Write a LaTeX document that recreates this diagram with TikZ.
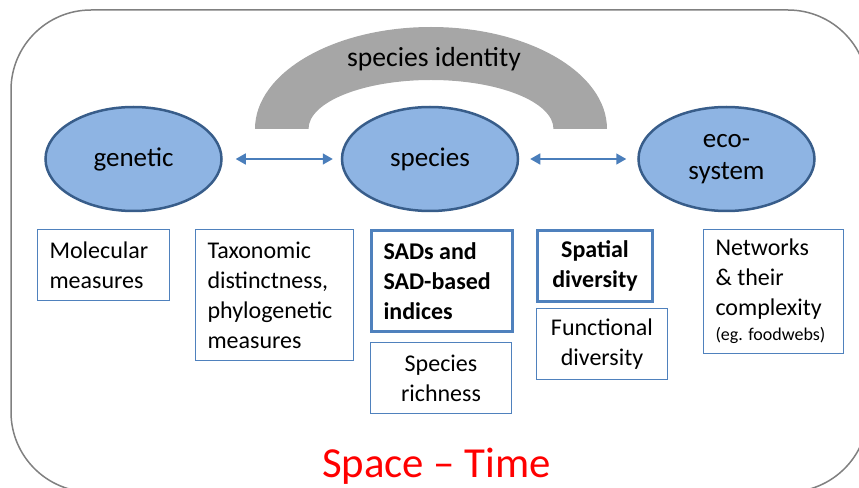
\documentclass[tikz,border=0pt]{standalone}
\usepackage{fontspec}
\setmainfont{Carlito}
\usetikzlibrary{arrows.meta, positioning, shapes.geometric}

\definecolor{levelfill}{HTML}{8EB4E3}
\definecolor{leveldraw}{HTML}{385D8A}
\definecolor{linkblue}{HTML}{4A7EBB}
\definecolor{boxblue}{HTML}{4F81BD}
\definecolor{archgray}{HTML}{A6A6A6}
\definecolor{framegray}{HTML}{808080}

\begin{document}
\begin{tikzpicture}[
        x=0.5pt, y=0.5pt,
        node distance=59pt,
        level/.style={ellipse, fill=levelfill, draw=leveldraw, line width=1.25pt, minimum width=88pt, minimum height=52pt, font=\fontsize{13.5}{16}\selectfont, align=center},
        arrow/.style={arrows={Triangle[length=5pt, width=5.5pt]-Triangle[length=5pt, width=5.5pt]}, draw=linkblue, fill=linkblue, line width=0.75pt},
        measure/.style={draw=boxblue, line width=0.5pt, anchor=north west, inner xsep=6pt, inner ysep=4pt, font=\fontsize{12}{15}\selectfont},
        keymeasure/.style={measure, line width=1.5pt, font=\bfseries\fontsize{12}{15}\selectfont}
    ]

    \useasboundingbox (0,0) rectangle (859,488);
    \clip (0,0) rectangle (859,488);

    % Frame
    \draw[framegray, line width=0.75pt, rounded corners=40pt] (11,-4) rectangle (868,478);

    % Arch over the species level
    \fill[archgray] (255,359) arc[start angle=180, end angle=0, x radius=88pt, y radius=51pt]
        -- (553.5,359) arc[start angle=0, end angle=180, x radius=61.25pt, y radius=24.5pt] -- cycle;
    \node[font=\fontsize{13.8}{16}\selectfont] (identity) at (434,429) {species identity};

    % Levels
    \node[level] (genetic) at (133.5,329) {genetic};
    \node[level, right=of genetic] (species) {species};
    \node[level, right=of species] (ecosystem) {eco-\\system};

    % Links between levels
    \draw[arrow, shorten <=6.5pt, shorten >=4pt] (genetic) -- (species);
    \draw[arrow, shorten <=5.5pt, shorten >=5.5pt] (species) -- (ecosystem);

    % Measures
    \node[measure, text width=54pt, minimum height=35.5pt, align=flush left] (molecular) at (37,259) {Molecular\\measures};
    \node[measure, text width=67pt, minimum height=65.5pt, align=flush left] (taxonomic) at (195,259) {Taxonomic\\distinctness,\\phylogenetic\\measures};
    \node[keymeasure, text width=58.5pt, minimum height=50.5pt, align=flush left] (sads) at (370,259) {SADs and\\SAD-based\\indices};
    \node[measure, text width=58.5pt, minimum height=35.5pt, align=flush center, below=4.5pt of sads.south west, anchor=north west] (richness) {Species\\richness};
    \node[keymeasure, text width=45.5pt, minimum height=35.5pt, align=flush center] (spatial) at (536,259) {Spatial\\diversity};
    \node[measure, text width=53.5pt, minimum height=35.5pt, align=flush center, below=2.5pt of spatial.south west, anchor=north west] (functional) {Functional\\diversity};
    \node[measure, minimum height=62pt, inner ysep=3pt] (networks) at (703,259)
        {\parbox{58pt}{\raggedright Networks\\\& their\\complexity\\[-2.5pt]{\fontsize{9}{11}\selectfont (eg. foodwebs)}}};

    % Scale of observation
    \node[text=red, font=\fontsize{21.4}{26}\selectfont, anchor=base] (spacetime) at (436.5,10) {Space – Time};

\end{tikzpicture}
\end{document}
